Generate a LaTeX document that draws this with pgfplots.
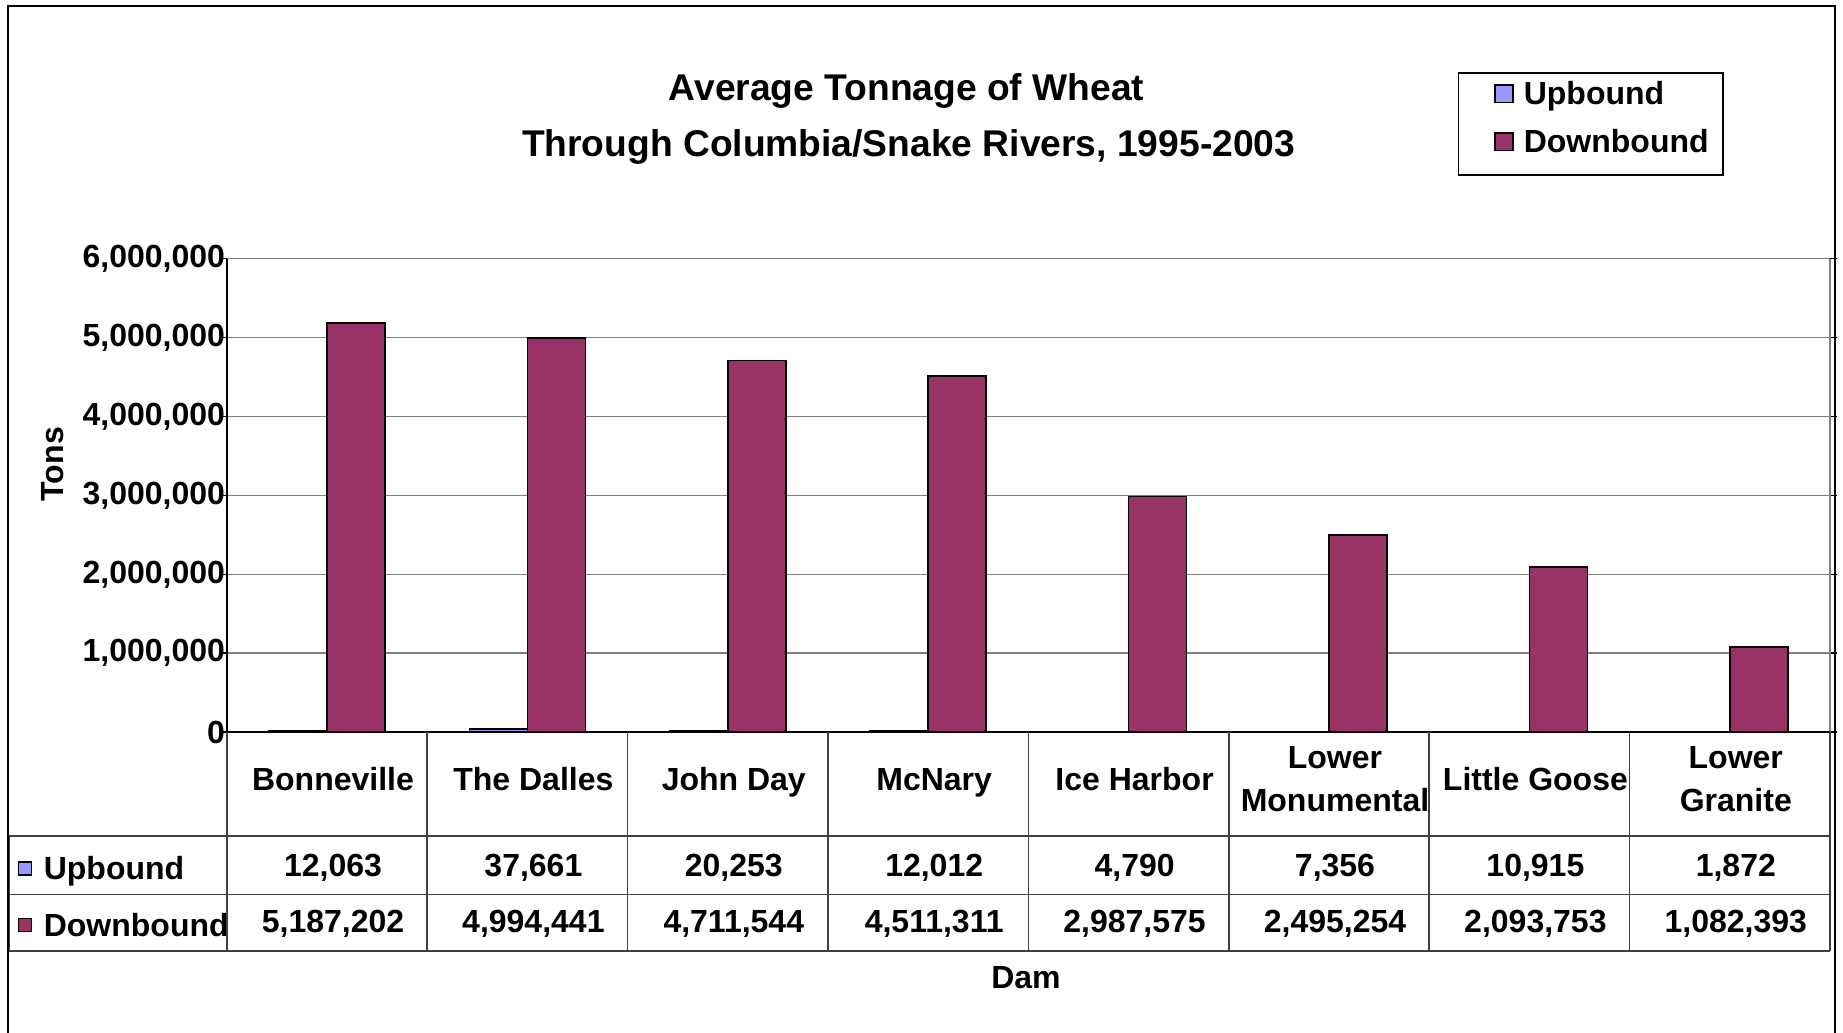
\documentclass[border=0pt]{standalone}
\usepackage{fontspec}
\setmainfont{Liberation Sans}
\usepackage{pgfplots}
\pgfplotsset{compat=1.18}
\definecolor{upc}{HTML}{9999FF}
\definecolor{downc}{HTML}{993366}
\definecolor{gridc}{HTML}{808080}
\definecolor{tabc}{HTML}{404040}
\newcommand{\tf}{\fontsize{16}{21.7}\selectfont\bfseries}
\newcommand{\ttl}{\fontsize{18.6}{22}\selectfont\bfseries}
\newcommand{\vp}{\vphantom{Ly}}
\begin{document}
\begin{tikzpicture}
\useasboundingbox (0,0) rectangle (921.5pt,516.5pt);
% outer frame (open at bottom)
\draw[black, line width=1pt] (4.1pt,0) -- (4.1pt,513.6pt) -- (917.4pt,513.6pt) -- (917.4pt,0);
% title
\node[font=\ttl] at (453.3pt,471.2pt) {Average Tonnage of Wheat};
\node[font=\ttl] at (454.3pt,443pt) {Through Columbia/Snake Rivers, 1995-2003};
% y label
\node[font=\tf, rotate=90] at (26.4pt,284.4pt) {Tons};
% x label
\node[font=\tf] at (513pt,27.5pt) {Dam};
% legend
\draw[black, line width=0.8pt] (729.3pt,428.95pt) rectangle (861.6pt,480.05pt);
\draw[black, line width=0.8pt, fill=upc] (747.6pt,465.2pt) rectangle (756.4pt,474pt);
\draw[black, line width=0.8pt, fill=downc] (747.6pt,441.2pt) rectangle (756.4pt,450pt);
\node[font=\tf, anchor=base west, inner sep=0pt] at (761.7pt,464.3pt) {Upbound};
\node[font=\tf, anchor=base west, inner sep=0pt] at (761.7pt,440.3pt) {Downbound};
% table row headers
\draw[black, line width=0.6pt, fill=upc] (9.4pt,79pt) rectangle (15.9pt,85.5pt);
\draw[black, line width=0.6pt, fill=downc] (9.4pt,50.8pt) rectangle (15.9pt,57.3pt);
\node[font=\tf, anchor=base west, inner sep=0pt] at (21.7pt,76.5pt) {Upbound};
\node[font=\tf, anchor=base west, inner sep=0pt] at (21.7pt,48.3pt) {Downbound};
\begin{axis}[
  at={(113.4pt,150.4pt)}, anchor=south west,
  scale only axis, width=801.6pt, height=236.8pt,
  xmin=-0.5, xmax=7.5, ymin=0, ymax=6000000,
  clip=false,
  ybar=0pt, bar width=29pt,
  axis line style={draw=none},
  xtick={0,1,2,3,4,5,6,7},
  xticklabels={Bonneville\vp,The Dalles\vp,John Day\vp,McNary\vp,Ice Harbor\vp,{Lower\\Monumental\vp},Little Goose\vp,{Lower\\Granite\vp}},
  x tick style={draw=none},
  xticklabel style={font=\tf, align=center, anchor=center, yshift=-21.7pt, xshift=3pt},
  ytick={0,1000000,2000000,3000000,4000000,5000000,6000000},
  scaled y ticks=false,
  yticklabel style={font=\tf, inner sep=0pt, xshift=2.7pt,
    /pgf/number format/fixed, /pgf/number format/1000 sep={,},
    /pgf/number format/assume math mode=true},
  tick align=outside, major tick length=3.4pt,
  y tick style={black, line width=0.8pt},
  ymajorgrids, grid style={gridc, line width=0.8pt},
]
\addplot[fill=upc, draw=black, line width=0.8pt] coordinates {
  (0,12063) (1,37661) (2,20253) (3,12012) (4,4790) (5,7356) (6,10915) (7,1872)};
\addplot[fill=downc, draw=black, line width=0.8pt] coordinates {
  (0,5187202) (1,4994441) (2,4711544) (3,4511311) (4,2987575) (5,2495254) (6,2093753) (7,1082393)};
% axis lines
\draw[gridc, line width=0.8pt] (rel axis cs:1,0) -- (rel axis cs:1,1);
\draw[black, line width=0.8pt] (rel axis cs:0,0) -- (rel axis cs:0,1);
\draw[black, line width=0.8pt] (rel axis cs:0,0) -- (rel axis cs:1,0);
% data table grid
\draw[tabc, line width=0.8pt] ([xshift=-108.7pt,yshift=-51.8pt]rel axis cs:0,0) -- ([yshift=-51.8pt]rel axis cs:1,0);
\draw[tabc, line width=0.8pt] ([xshift=-108.7pt,yshift=-81.2pt]rel axis cs:0,0) -- ([yshift=-81.2pt]rel axis cs:1,0);
\draw[tabc, line width=0.8pt] ([xshift=-108.7pt,yshift=-109.4pt]rel axis cs:0,0) -- ([yshift=-109.4pt]rel axis cs:1,0);
\draw[tabc, line width=0.8pt] ([xshift=-108.7pt,yshift=-51.8pt]rel axis cs:0,0) -- ([xshift=-108.7pt,yshift=-109.4pt]rel axis cs:0,0);
\pgfplotsinvokeforeach{-0.5,0.5,1.5,2.5,3.5,4.5,5.5,6.5,7.5}{
  \draw[tabc, line width=0.8pt] (axis cs:#1,0) -- ([yshift=-109.4pt]axis cs:#1,0);
}
% table values
\node[font=\tf, anchor=base, xshift=3pt, yshift=-72.1pt] at (axis cs:0,0) {12,063};
\node[font=\tf, anchor=base, xshift=3pt, yshift=-72.1pt] at (axis cs:1,0) {37,661};
\node[font=\tf, anchor=base, xshift=3pt, yshift=-72.1pt] at (axis cs:2,0) {20,253};
\node[font=\tf, anchor=base, xshift=3pt, yshift=-72.1pt] at (axis cs:3,0) {12,012};
\node[font=\tf, anchor=base, xshift=3pt, yshift=-72.1pt] at (axis cs:4,0) {4,790};
\node[font=\tf, anchor=base, xshift=3pt, yshift=-72.1pt] at (axis cs:5,0) {7,356};
\node[font=\tf, anchor=base, xshift=3pt, yshift=-72.1pt] at (axis cs:6,0) {10,915};
\node[font=\tf, anchor=base, xshift=3pt, yshift=-72.1pt] at (axis cs:7,0) {1,872};
\node[font=\tf, anchor=base, xshift=3pt, yshift=-100.4pt] at (axis cs:0,0) {5,187,202};
\node[font=\tf, anchor=base, xshift=3pt, yshift=-100.4pt] at (axis cs:1,0) {4,994,441};
\node[font=\tf, anchor=base, xshift=3pt, yshift=-100.4pt] at (axis cs:2,0) {4,711,544};
\node[font=\tf, anchor=base, xshift=3pt, yshift=-100.4pt] at (axis cs:3,0) {4,511,311};
\node[font=\tf, anchor=base, xshift=3pt, yshift=-100.4pt] at (axis cs:4,0) {2,987,575};
\node[font=\tf, anchor=base, xshift=3pt, yshift=-100.4pt] at (axis cs:5,0) {2,495,254};
\node[font=\tf, anchor=base, xshift=3pt, yshift=-100.4pt] at (axis cs:6,0) {2,093,753};
\node[font=\tf, anchor=base, xshift=3pt, yshift=-100.4pt] at (axis cs:7,0) {1,082,393};
\end{axis}
\end{tikzpicture}
\end{document}
